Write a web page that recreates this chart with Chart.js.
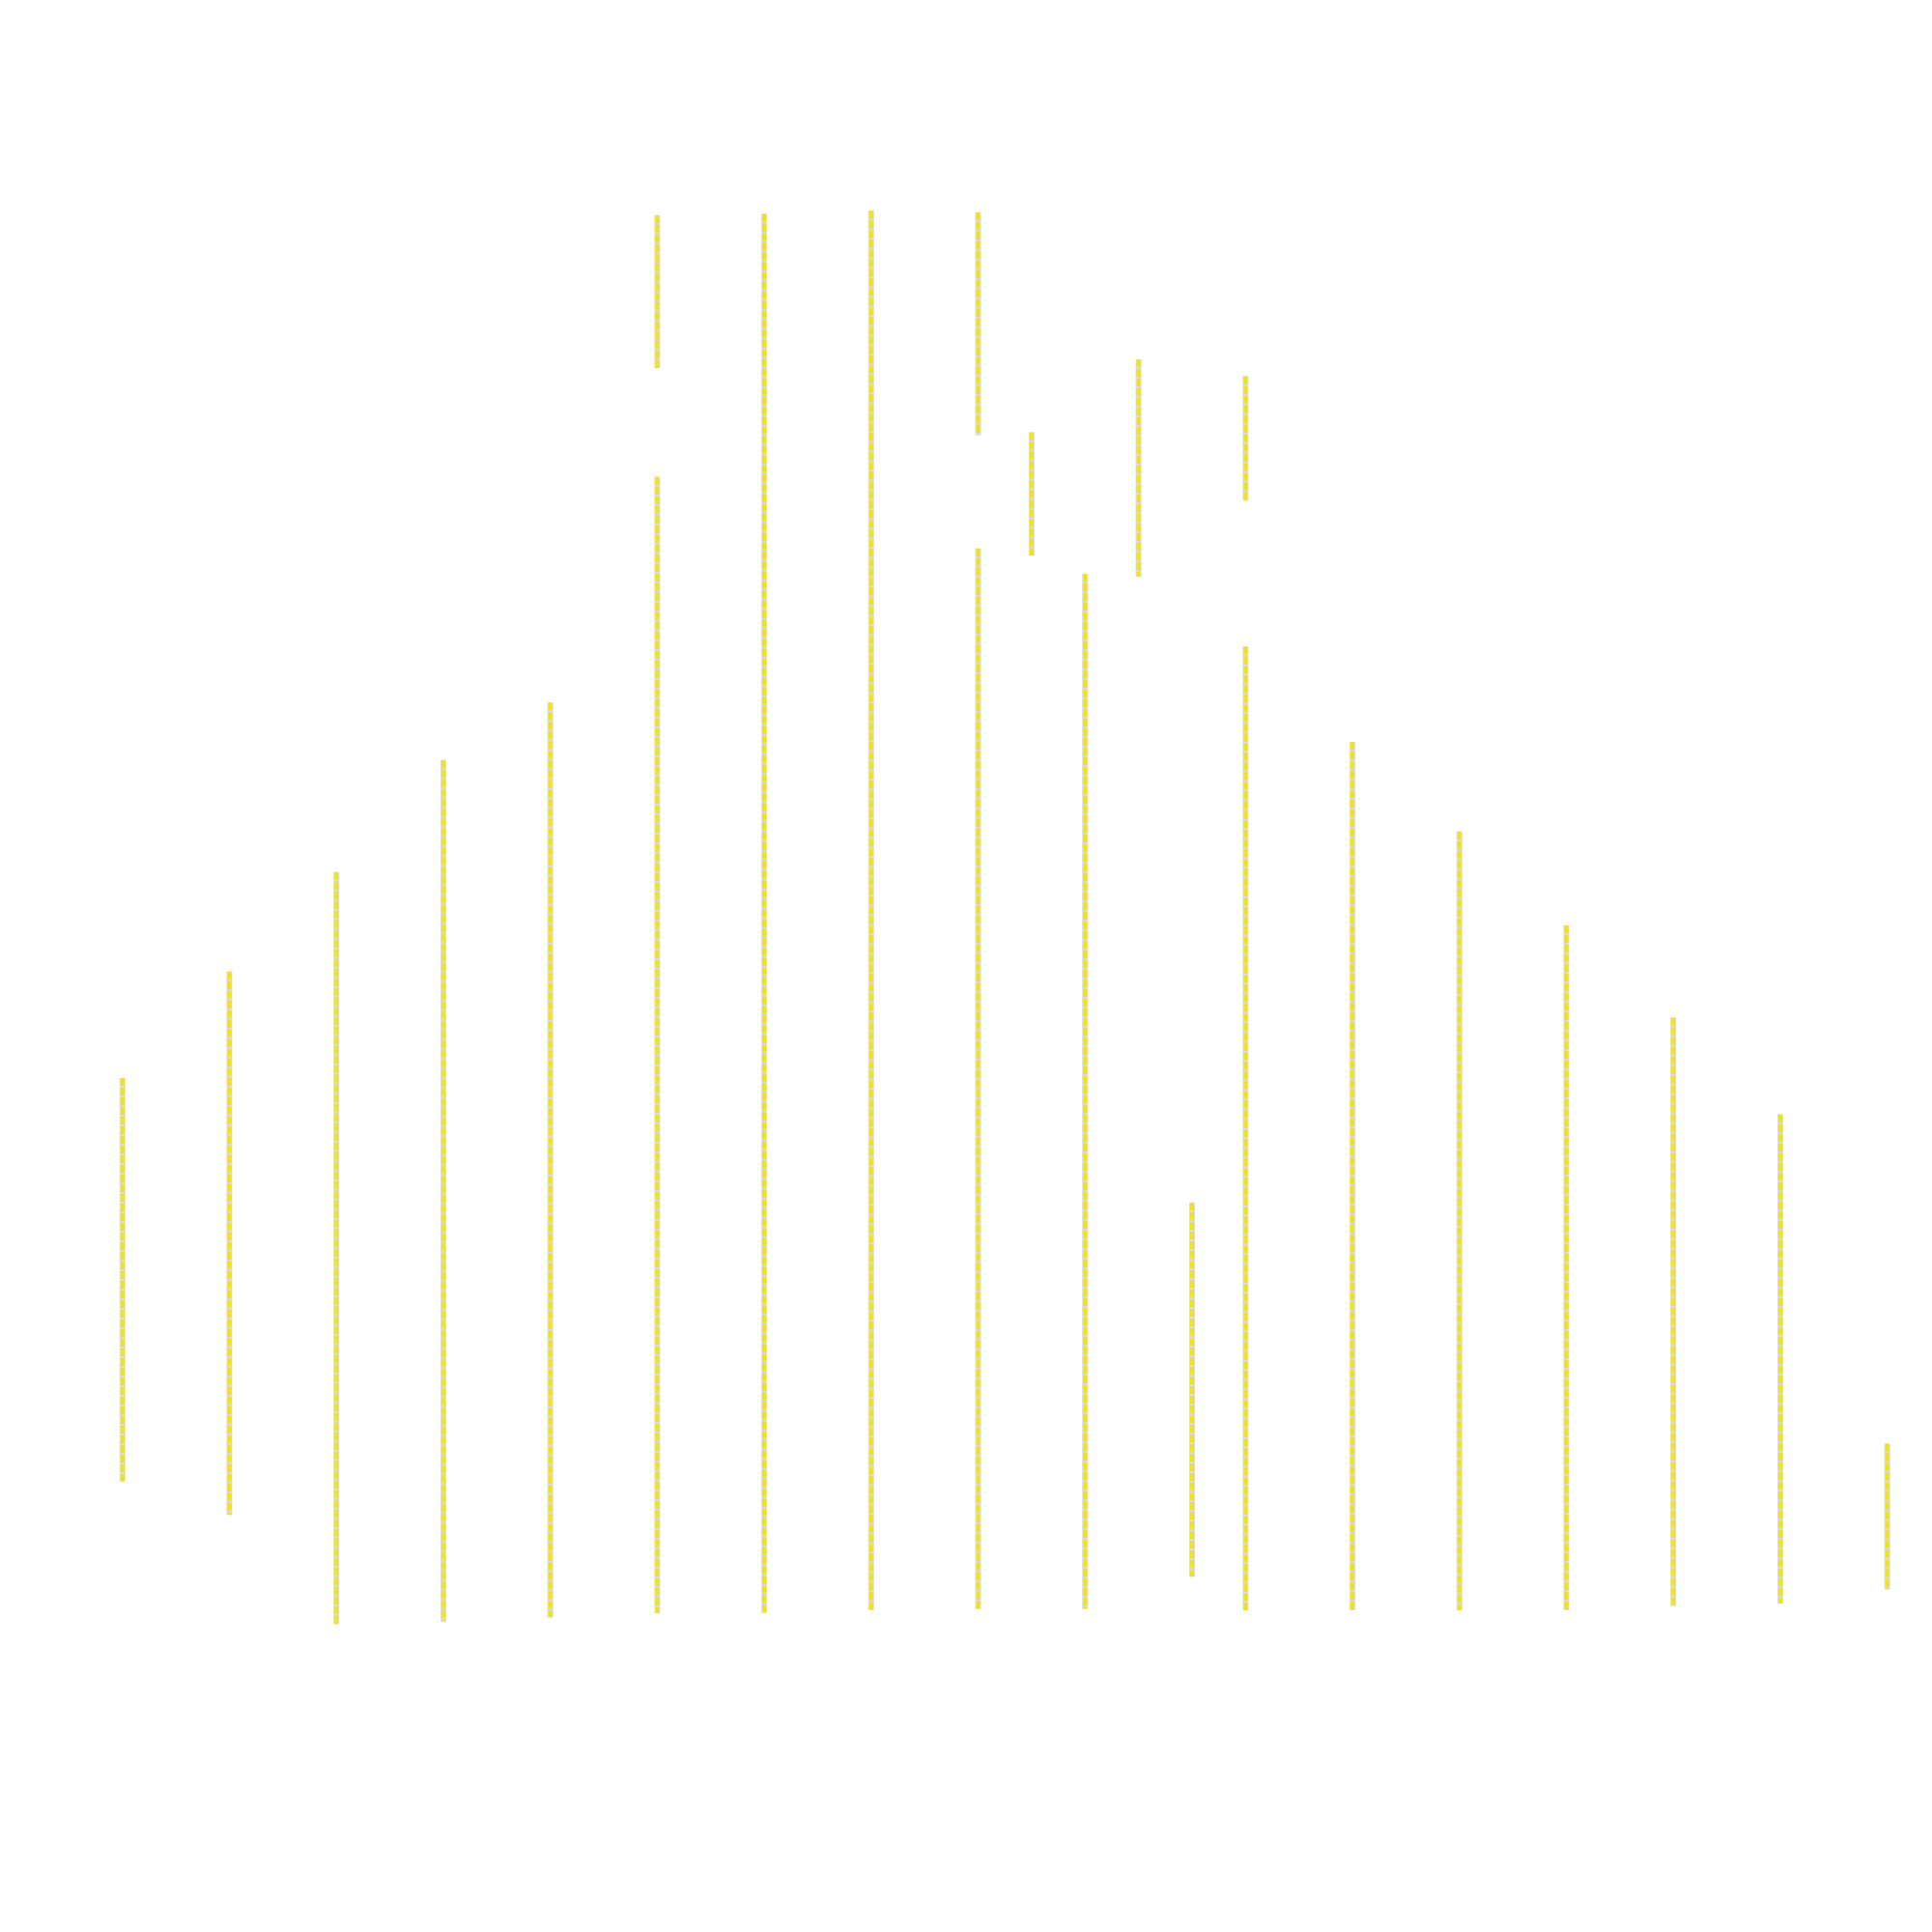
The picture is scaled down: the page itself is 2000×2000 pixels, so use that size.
<!DOCTYPE html>
<html>
<head>
<meta charset="utf-8">
<script src="https://cdn.jsdelivr.net/npm/chart.js@4/dist/chart.umd.min.js"></script>
<style>
  html, body { margin: 0; padding: 0; background: #ffffff; }
  #wrap { width: 2000px; height: 2000px; position: relative; }
</style>
</head>
<body>
<div id="wrap"><canvas id="c"></canvas></div>
<script>
// Each vertical segment: slot position, upper value, lower value
const segSlot   = [0,    2,    4,    6,    8,    10,   10,   12,   14,   16,   16,   17,   18,   19,   20,   21,   21,   23,   25,   27,   29,   31,   33];
const segTop    = [38.0, 45.6, 52.7, 60.7, 64.8, 99.6, 80.9, 99.7, 99.9, 99.8, 75.8, 84.1, 74.0, 89.3, 29.1, 88.1, 68.8, 62.0, 55.6, 48.9, 42.3, 35.4, 11.9];
const segBottom = [9.2,  6.8,  -1.0, -0.8, -0.5, 88.7, -0.2, -0.2, 0,    83.9, 0.1,  75.3, 0.1,  73.8, 2.4,  79.2, 0,    0,    0,    0,    0.3,  0.5,  1.5];

const pts = [];
segSlot.forEach((s, i) => {
  pts.push({ x: s, y: segTop[i] });
  pts.push({ x: s, y: segBottom[i] });
  pts.push({ x: s, y: null });
});

new Chart(document.getElementById('c'), {
  type: 'scatter',
  data: {
    datasets: [
      {
        data: pts,
        showLine: true,
        spanGaps: false,
        borderColor: '#f2e219',
        borderWidth: 4,
        borderDash: [8, 2],
        borderCapStyle: 'butt',
        pointRadius: 0,
        pointHoverRadius: 0,
        order: 0
      },
      {
        data: pts,
        showLine: true,
        spanGaps: false,
        borderColor: '#dcdcdc',
        borderWidth: 6,
        borderCapStyle: 'butt',
        pointRadius: 0,
        pointHoverRadius: 0,
        order: 1
      }
    ]
  },
  options: {
    responsive: true,
    maintainAspectRatio: false,
    animation: false,
    layout: { padding: 0 },
    plugins: { legend: { display: false }, tooltip: { enabled: false } },
    scales: {
      x: { type: 'linear', display: false, min: -2.29, max: 33.837 },
      y: { type: 'linear', display: false, min: -22.97, max: 114.96 }
    }
  }
});
</script>
</body>
</html>
